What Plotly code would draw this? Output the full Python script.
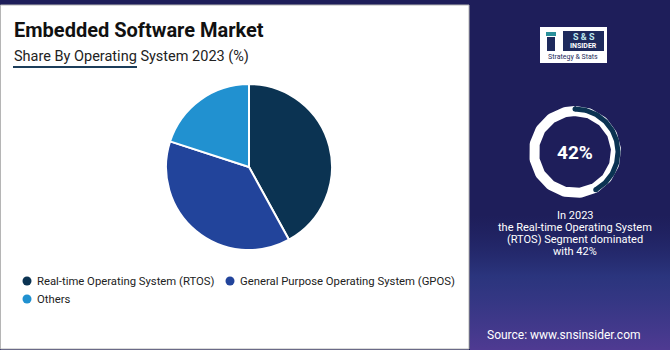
import numpy as np
import plotly.graph_objects as go

# ---------------- data ----------------
categories = ["Real-time Operating System (RTOS)",
              "General Purpose Operating System (GPOS)",
              "Others"]
shares = [42, 38, 20]
colors = ["#0b3352", "#22449b", "#2191d0"]
highlight_value = 42
highlight_year = "2023"
title = "Embedded Software Market"
subtitle = "Share By Operating System 2023 (%)"
source = "Source: www.snsinsider.com"

W, H = 670, 350
NAVY = "#1e1e5a"
FONT = "Roboto"

fig = go.Figure()

# pixel-space axes
fig.update_layout(
    width=W, height=H,
    margin=dict(l=0, r=0, t=0, b=0),
    paper_bgcolor=NAVY, plot_bgcolor="rgba(0,0,0,0)",
    xaxis=dict(range=[0, W], visible=False, fixedrange=True, domain=[0, 1]),
    yaxis=dict(range=[H, 0], visible=False, fixedrange=True, domain=[0, 1]),
    showlegend=False,
    font=dict(family=FONT),
)

# background gradient bottom-right
fig.add_trace(go.Scatter(
    x=[470, 670, 670, 470, 470], y=[215, 215, 350, 350, 215],
    mode="lines", line=dict(width=0), fill="toself",
    fillgradient=dict(type="vertical", start=215, stop=350,
                      colorscale=[[0, "rgba(40,50,130,0)"],
                                  [0.45, "rgba(55,75,160,0.5)"],
                                  [1, "rgba(100,70,170,0.7)"]]),
    hoverinfo="skip"))

# white panel
fig.add_shape(type="rect", xref="x", yref="y", x0=0.5, x1=469, y0=5, y1=349,
              fillcolor="white", line=dict(color="#b5b5b5", width=1), layer="below")

# main pie
cx, cy, r = 249, 167, 83
fig.add_trace(go.Pie(
    labels=categories, values=shares, sort=False, direction="clockwise",
    rotation=0, marker=dict(colors=colors, line=dict(color="white", width=2)),
    textinfo="none", hoverinfo="label+percent",
    domain=dict(x=[(cx - r) / W, (cx + r) / W],
                y=[(H - cy - r) / H, (H - cy + r) / H]),
))

# title / subtitle
fig.add_annotation(x=12, y=30, xref="x", yref="y", text=f"<b>{title}</b>",
                   showarrow=False, xanchor="left", yanchor="middle",
                   font=dict(size=20, color="#111111", family=FONT))
fig.add_annotation(x=12, y=56, xref="x", yref="y", text=subtitle,
                   showarrow=False, xanchor="left", yanchor="middle",
                   font=dict(size=14.5, color="#222222", family=FONT))
fig.add_shape(type="line", xref="x", yref="y", x0=13, x1=137, y0=67, y1=67,
              line=dict(color="#1c3d5a", width=2))

# legend (custom, circular markers)
leg_pos = [(27, 281), (230, 281), (27, 299)]
fig.add_trace(go.Scatter(
    x=[p[0] for p in leg_pos], y=[p[1] for p in leg_pos], mode="markers",
    marker=dict(size=9, color=colors), hoverinfo="skip"))
for (lx, ly), name in zip(leg_pos, categories):
    fig.add_annotation(x=lx + 8, y=ly, xref="x", yref="y", text=name,
                       showarrow=False, xanchor="left", yanchor="middle",
                       font=dict(size=11.3, color="#222222", family=FONT))

# right donut indicator
dcx, dcy = 575, 152
t = np.linspace(0, 2 * np.pi, 200)
fig.add_trace(go.Scatter(x=dcx + 41 * np.sin(t), y=dcy - 41 * np.cos(t),
                         mode="lines", line=dict(color="white", width=10),
                         hoverinfo="skip"))
ta = np.linspace(0, 2 * np.pi * highlight_value / 100, 120)
ax_ = dcx + 43 * np.sin(ta)
ay_ = dcy - 43 * np.cos(ta)
fig.add_trace(go.Scatter(x=ax_, y=ay_, mode="lines",
                         line=dict(color=colors[0], width=5), hoverinfo="skip"))
fig.add_trace(go.Scatter(x=[ax_[0], ax_[-1]], y=[ay_[0], ay_[-1]], mode="markers",
                         marker=dict(size=5, color=colors[0]), hoverinfo="skip"))
fig.add_annotation(x=dcx, y=dcy, xref="x", yref="y", text=f"<b>{highlight_value}%</b>",
                   showarrow=False, xanchor="center", yanchor="middle",
                   font=dict(size=19, color="white", family=FONT))

desc_lines = [f"In {highlight_year}", "the Real-time Operating System",
              "(RTOS) Segment dominated", f"with {highlight_value}%"]
for i, line in enumerate(desc_lines):
    fig.add_annotation(x=dcx, y=215 + 12.3 * i, xref="x", yref="y", text=line,
                       showarrow=False, xanchor="center", yanchor="middle",
                       font=dict(size=11, color="white", family=FONT))

fig.add_annotation(x=564, y=335, xref="x", yref="y", text=source,
                   showarrow=False, xanchor="center", yanchor="middle",
                   font=dict(size=12, color="white", family=FONT))

# logo
fig.add_shape(type="rect", xref="x", yref="y", x0=540, x1=607, y0=27, y1=63,
              fillcolor="white", line=dict(width=0))
fig.add_shape(type="rect", xref="x", yref="y", x0=563, x1=604, y0=31, y1=51,
              fillcolor="#1e2a5c", line=dict(width=0))
fig.add_shape(type="rect", xref="x", yref="y", x0=547, x1=555, y0=37, y1=51,
              fillcolor="#1e2a5c", line=dict(width=0))
fig.add_shape(type="rect", xref="x", yref="y", x0=546, x1=556, y0=32, y1=36,
              fillcolor="#2a8f9a", line=dict(width=0))
fig.add_annotation(x=583.5, y=36.5, xref="x", yref="y", text="<b>S &amp; S</b>",
                   showarrow=False, xanchor="center", yanchor="middle",
                   font=dict(size=9, color="#bfe9ee", family=FONT))
fig.add_annotation(x=583.5, y=46, xref="x", yref="y", text="<b>INSIDER</b>",
                   showarrow=False, xanchor="center", yanchor="middle",
                   font=dict(size=7, color="white", family=FONT))
fig.add_annotation(x=573, y=56.5, xref="x", yref="y", text="Strategy &amp; Stats",
                   showarrow=False, xanchor="center", yanchor="middle",
                   font=dict(size=7, color="#1e2a5c", family=FONT))

fig.write_html("out.html")
